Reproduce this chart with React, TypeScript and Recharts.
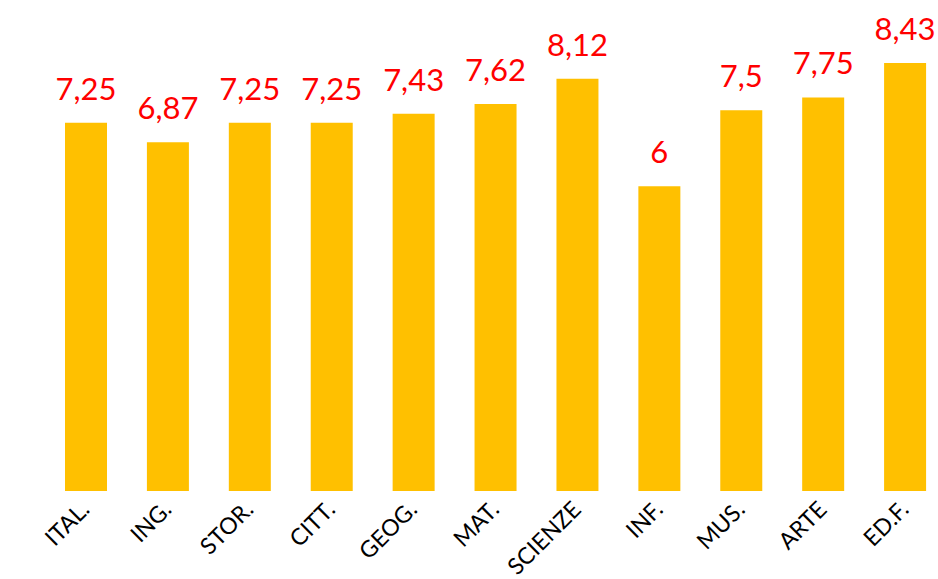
import { BarChart, Bar, XAxis, YAxis, LabelList } from "recharts";

const subjects = ["ITAL.", "ING.", "STOR.", "CITT.", "GEOG.", "MAT.", "SCIENZE", "INF.", "MUS.", "ARTE", "ED.F."];
const grades = [7.25, 6.87, 7.25, 7.25, 7.43, 7.62, 8.12, 6, 7.5, 7.75, 8.43];

const data = subjects.map((s, i) => ({ subject: s, grade: grades[i] }));

const FONT = "Lato, 'Open Sans', sans-serif";

function SubjectTick({ x, y, payload }: { x?: number; y?: number; payload?: { value: string } }) {
  if (typeof x !== "number" || typeof y !== "number") return null;
  const tx = x + 5;
  const ty = y + 12;
  return (
    <text
      x={tx}
      y={ty}
      transform={`rotate(-45, ${tx}, ${ty})`}
      textAnchor="end"
      fontFamily={FONT}
      fontSize={23}
      fill="#000"
    >
      {payload?.value}
    </text>
  );
}

export default function App() {
  return (
    <div style={{ position: "fixed", left: 0, top: 0, width: 938, height: 579, overflow: "hidden", background: "#fff" }}>
      <BarChart
        width={960}
        height={579}
        data={data}
        margin={{ top: 34, right: 14, bottom: 0, left: 45 }}
        barCategoryGap={0}
      >
        <XAxis
          dataKey="subject"
          axisLine={false}
          tickLine={false}
          interval={0}
          height={88}
          tick={<SubjectTick />}
        />
        <YAxis hide domain={[0, 9]} />
        <Bar dataKey="grade" fill="#FFC000" barSize={42} isAnimationActive={false}>
          <LabelList
            dataKey="grade"
            position="top"
            offset={23}
            fill="#FF0000"
            fontSize={31}
            fontFamily={FONT}
            formatter={(v: number) => String(v).replace(".", ",")}
          />
        </Bar>
      </BarChart>
    </div>
  );
}
